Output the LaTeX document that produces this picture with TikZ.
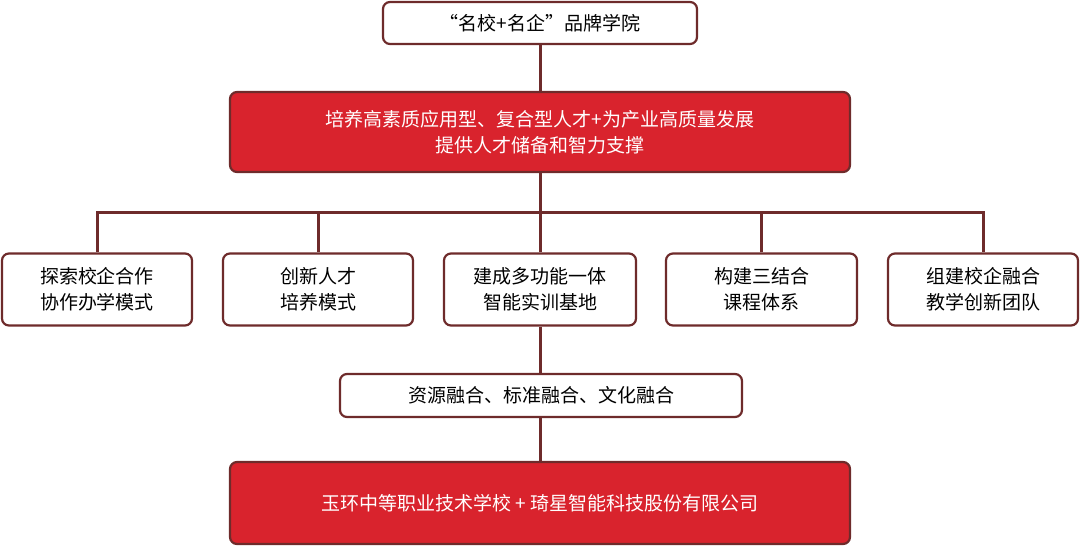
\documentclass[tikz,border=0pt]{standalone}
\usepackage{fontspec}
\setmainfont{Noto Sans CJK SC}
\begin{document}
\definecolor{ln}{HTML}{6E2B2B}
\definecolor{rd}{HTML}{D9232D}
\begin{tikzpicture}[x=1pt,y=-1pt,
 wb/.style={draw=ln,line width=2.2pt,rounded corners=7pt,fill=white,text=black,font=\fontsize{19}{26}\selectfont,align=center,inner sep=0pt},
 rb/.style={wb,fill=rd,text=white},
 cn/.style={draw=ln,line width=3pt}]
\useasboundingbox (0,0) rectangle (1080,546);
\node[wb,minimum width=314pt,minimum height=42pt] (t) at (540,23) {“名校+名企”品牌学院};
\node[rb,minimum width=620pt,minimum height=80pt] (r) at (540,132) {培养高素质应用型、复合型人才+为产业高质量发展\\提供人才储备和智力支撑};
\node[wb,minimum width=190pt,minimum height=72pt] (a) at (97,289.5) {探索校企合作\\协作办学模式};
\node[wb,minimum width=190pt,minimum height=72pt] (b) at (318,289.5) {创新人才\\培养模式};
\node[wb,minimum width=192pt,minimum height=72pt] (c) at (540,289.5) {建成多功能一体\\智能实训基地};
\node[wb,minimum width=191pt,minimum height=72pt] (d) at (761.5,289.5) {构建三结合\\课程体系};
\node[wb,minimum width=190pt,minimum height=72pt] (e) at (983,289.5) {组建校企融合\\教学创新团队};
\node[wb,minimum width=402pt,minimum height=43pt] (m) at (541,395.5) {资源融合、标准融合、文化融合};
\node[rb,minimum width=620pt,minimum height=82pt] (bt) at (540,503) {玉环中等职业技术学校 + 琦星智能科技股份有限公司};
\coordinate (h) at (540,212);
\begin{scope}[on background layer/.try]
\end{scope}
\draw[cn] (t) -- (r);
\draw[cn] (r) -- (h);
\draw[cn] (a.north) |- (h) -| (e.north);
\draw[cn] (b.north) -- (b.north|-h);
\draw[cn] (c.north) -- (h);
\draw[cn] (d.north) -- (d.north|-h);
\draw[cn] (c.south) -- (c.south|-m.north);
\draw[cn] (c.south|-m.south) -- (c.south|-bt.north);
\end{tikzpicture}
\end{document}
